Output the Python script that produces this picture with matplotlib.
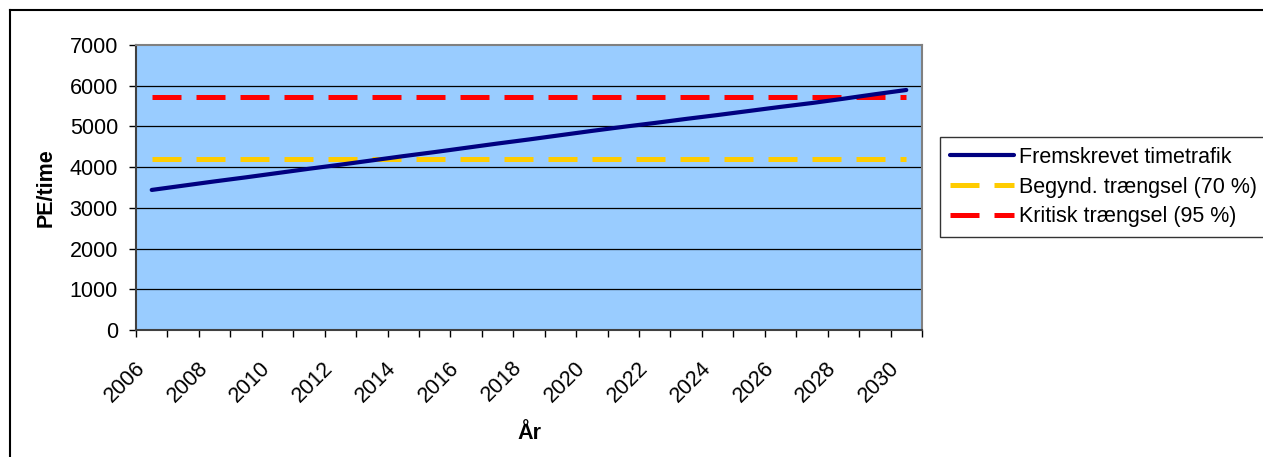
import matplotlib
matplotlib.use("Agg")
import matplotlib.pyplot as plt
from matplotlib.lines import Line2D
from matplotlib.transforms import ScaledTranslation

plt.rcParams["font.family"] = ["Liberation Sans", "DejaVu Sans"]

# Projected hourly traffic (PE/time) per year, and congestion thresholds
years = list(range(2006, 2031))
traffic = [3440, 3545, 3650, 3750, 3855, 3960, 4060, 4165, 4270, 4370,
           4475, 4580, 4680, 4785, 4890, 4990, 5085, 5185, 5280, 5380,
           5480, 5575, 5680, 5790, 5895]
begin_congestion = 4205   # 70 %
critical_congestion = 5715  # 95 %

labels = ["Fremskrevet timetrafik", "Begynd. trængsel (70 %)", "Kritisk trængsel (95 %)"]
y_ticks = [0, 1000, 2000, 3000, 4000, 5000, 6000, 7000]

FS = 15.5

fig = plt.figure(figsize=(12.63, 4.57), dpi=100)
ax = fig.add_axes([136 / 1263, 1 - 330 / 457, (922 - 136) / 1263, (330 - 45) / 457])
ax.set_facecolor("#99ccff")

x = list(range(len(years)))
ax.plot(x, traffic, color="#000080", lw=3.0, solid_capstyle="round", label=labels[0], zorder=4)
ax.plot(x, [begin_congestion] * len(x), color="#ffcc00", lw=3.6,
        dashes=(5.8, 3.0), label=labels[1], zorder=3)
ax.plot(x, [critical_congestion] * len(x), color="#ff0000", lw=3.6,
        dashes=(5.8, 3.0), label=labels[2], zorder=3)

ax.set_xlim(-0.5, len(years) - 0.5)
ax.set_ylim(0, 7000)
ax.set_yticks(y_ticks)
for yv in y_ticks[1:-1]:
    ax.axhline(yv, color="black", lw=0.9, zorder=1)

# tick marks between categories, labels on every second year
ax.set_xticks([i - 0.5 for i in range(len(years) + 1)])
ax.set_xticklabels([])
ax.set_xticks(x[::2], minor=True)
ax.set_xticklabels([str(y) for y in years[::2]], minor=True, rotation=45,
                   ha="right", va="center", rotation_mode="anchor", fontsize=FS)
ax.tick_params(axis="x", which="major", length=5, width=1, color="black")
ax.tick_params(axis="x", which="minor", length=0, pad=25)
ax.tick_params(axis="y", length=5, width=1, pad=8, labelsize=FS)
for lab in ax.get_xticklabels(minor=True):
    lab.set_transform(lab.get_transform() + ScaledTranslation(-10 / 100, 0, fig.dpi_scale_trans))

for side in ["top", "right"]:
    ax.spines[side].set_color("#808080")
    ax.spines[side].set_linewidth(1.5)
for side in ["left", "bottom"]:
    ax.spines[side].set_color("#404040")
    ax.spines[side].set_linewidth(1.5)

ax.set_ylabel("PE/time", fontsize=FS, fontweight="bold", labelpad=9)
ax.set_xlabel("År", fontsize=FS, fontweight="bold", labelpad=12)

leg = fig.legend(loc="upper left", bbox_to_anchor=(940 / 1263, 1 - 137 / 457),
                 fontsize=FS, frameon=True, fancybox=False, edgecolor="black",
                 handlelength=3.0, handletextpad=0.2, borderpad=0.45,
                 labelspacing=0.41, borderaxespad=0)
leg.get_frame().set_linewidth(1.0)

# outer chart border
fig.add_artist(Line2D([10 / 1263, 10 / 1263], [0, 1 - 10 / 457], color="black", lw=1.5,
                      transform=fig.transFigure))
fig.add_artist(Line2D([10 / 1263, 1], [1 - 10 / 457, 1 - 10 / 457], color="black", lw=1.5,
                      transform=fig.transFigure))

fig.savefig("out.png", dpi=100)
